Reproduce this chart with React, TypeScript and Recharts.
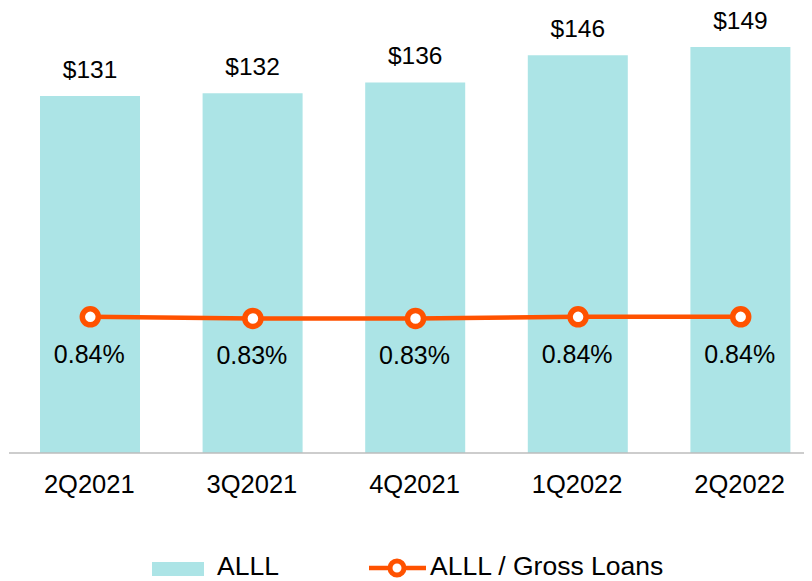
import { ComposedChart, Bar, Line, XAxis, YAxis, LabelList } from "recharts";

const quarters = ["2Q2021", "3Q2021", "4Q2021", "1Q2022", "2Q2022"];
const alll = [131, 132, 136, 146, 149];
const ratio = [0.84, 0.83, 0.83, 0.84, 0.84];

const data = quarters.map((q, i) => ({ quarter: q, alll: alll[i], ratio: ratio[i] }));

const BAR_COLOR = "#ACE4E6";
const LINE_COLOR = "#FF5200";
const FONT = "'Liberation Sans', Arial, sans-serif";

const BarValue = (props: any) => {
    const { x, y, width, value } = props;
    return (
        <text x={x + width / 2} y={y - 18} textAnchor="middle" fontSize={24.5} fill="#000" fontFamily={FONT}>
            ${value}
        </text>
    );
};

const RatioValue = (props: any) => {
    const { x, y, value } = props;
    return (
        <text x={x - 1} y={y + 46} textAnchor="middle" fontSize={25} fill="#000" fontFamily={FONT}>
            {value.toFixed(2)}%
        </text>
    );
};

const QuarterTick = (props: any) => {
    const { x, y, payload } = props;
    return (
        <text x={x - 1} y={y + 40} textAnchor="middle" fontSize={25.5} fill="#000" fontFamily={FONT}>
            {payload.value}
        </text>
    );
};

export default function App() {
    return (
        <div style={{ position: "relative", width: 804, height: 573, overflow: "hidden", fontFamily: FONT }}>
            <ComposedChart
                width={814}
                height={510}
                data={data}
                margin={{ top: 9, right: 0, bottom: 0, left: 1 }}
            >
                <XAxis
                    dataKey="quarter"
                    height={65}
                    tickLine={false}
                    tickSize={0}
                    tickMargin={0}
                    axisLine={{ stroke: "#BDBDBD", strokeWidth: 1.5 }}
                    tick={<QuarterTick />}
                    interval={0}
                />
                <YAxis yAxisId="left" hide domain={[0, 160]} />
                <YAxis yAxisId="right" orientation="right" hide domain={[0, 2.69]} />
                <Bar yAxisId="left" dataKey="alll" fill={BAR_COLOR} barSize={100} isAnimationActive={false}>
                    <LabelList dataKey="alll" content={<BarValue />} />
                </Bar>
                <Line
                    yAxisId="right"
                    dataKey="ratio"
                    stroke={LINE_COLOR}
                    strokeWidth={4.5}
                    dot={{ r: 8, fill: "#fff", stroke: LINE_COLOR, strokeWidth: 5.5 }}
                    isAnimationActive={false}
                >
                    <LabelList dataKey="ratio" content={<RatioValue />} />
                </Line>
            </ComposedChart>

            {/* legend */}
            <svg width={804} height={48} style={{ position: "absolute", left: 0, top: 525 }}>
                <rect x={144} y={29} width={52} height={14} fill={BAR_COLOR} />
                <text x={209} y={42} fontSize={26.5} fill="#000" fontFamily={FONT}>
                    ALLL
                </text>
                <line x1={361} y1={35} x2={418} y2={35} stroke={LINE_COLOR} strokeWidth={4.5} />
                <circle cx={389} cy={35} r={7} fill="#fff" stroke={LINE_COLOR} strokeWidth={5} />
                <text x={422} y={42} fontSize={26.5} fill="#000" fontFamily={FONT}>
                    ALLL / Gross Loans
                </text>
            </svg>
        </div>
    );
}
